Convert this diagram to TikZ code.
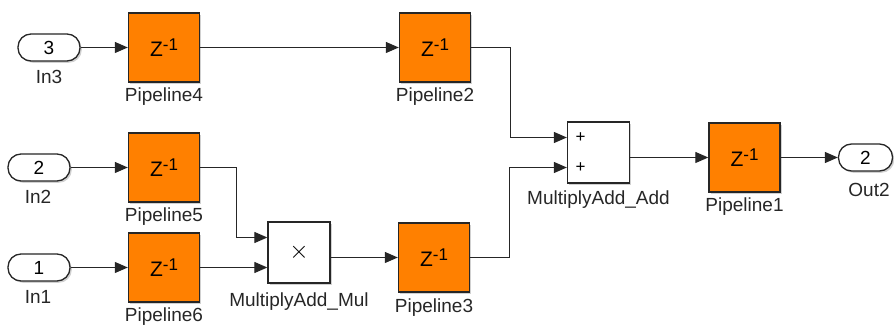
\documentclass[tikz,border=0pt]{standalone}
\usepackage{fontspec}
\setmainfont{Liberation Sans}
\usetikzlibrary{arrows.meta,shadows,calc}
\definecolor{pipeorange}{HTML}{FF8000}
\definecolor{edgegray}{HTML}{262626}
\begin{document}
\begin{tikzpicture}[x=1pt,y=-1pt,
  every node/.style={font=\fontsize{19}{19}\selectfont, inner sep=0pt},
  shad/.style={drop shadow={shadow xshift=1.8pt, shadow yshift=-1.8pt, opacity=0.3, fill=black!60}},
  pipe/.style={draw=edgegray, line width=1.4pt, fill=pipeorange, minimum width=71pt, minimum height=69pt, shad},
  opbox/.style={draw=edgegray, line width=1.3pt, fill=white, minimum width=62pt, minimum height=61pt, shad},
  port/.style={draw=edgegray, line width=1.3pt, fill=white, rounded corners=13pt, minimum height=27pt, shad},
  lbl/.style={text=black!85},
  wire/.style={draw=black!85, line width=1.2pt},
  arr/.style={wire, -{Triangle[length=13pt,width=11pt]}}
]
\useasboundingbox (0,0) rectangle (894,328);
\newcommand{\zinv}{\fontsize{21}{21}\selectfont Z\raisebox{6.5pt}{\fontsize{17}{17}\selectfont -1}}
% ports
\node[port, minimum width=62pt] (in3) at (49,47.5) {3};
\node[port, minimum width=62pt] (in2) at (39,167.5) {2};
\node[port, minimum width=62pt] (in1) at (39,267.5) {1};
\node[port, minimum width=54pt] (out2) at (865.5,157.5) {2};
\node[lbl] (in3l) at (49,77) {In3};
\node[lbl] (in2l) at (38,197) {In2};
\node[lbl] (in1l) at (38,297) {In1};
\node[lbl] (out2l) at (869,190) {Out2};
% pipelines
\node[pipe] (p4) at (164,47.5) {\zinv};
\node[pipe] (p2) at (435,47.5) {\zinv};
\node[pipe] (p5) at (164,167.5) {\zinv};
\node[pipe] (p6) at (164,267.5) {\zinv};
\node[pipe] (p3) at (434,257.5) {\zinv};
\node[pipe] (p1) at (744.5,157.5) {\zinv};
\node[lbl] (p4l) at (164,97) {Pipeline4};
\node[lbl] (p2l) at (435,97) {Pipeline2};
\node[lbl] (p5l) at (164,217) {Pipeline5};
\node[lbl] (p6l) at (164,317) {Pipeline6};
\node[lbl] (p3l) at (434,308) {Pipeline3};
\node[lbl] (p1l) at (744.5,207) {Pipeline1};
% operators
\node[opbox] (mul) at (299,252.5) {\fontsize{26}{26}\selectfont$\times$};
\node[opbox] (add) at (598.5,152.5) {};
\node (plus1) at ([xshift=-18pt,yshift=15pt]add.center) {\fontsize{17}{17}\selectfont +};
\node (plus2) at ([xshift=-18pt,yshift=-15pt]add.center) {\fontsize{17}{17}\selectfont +};
\node[lbl] (mull) at (299,302) {MultiplyAdd\_Mul};
\node[lbl] (addl) at (598.5,200) {MultiplyAdd\_Add};
% wires
\draw[arr] (in3.east) -- (p4.west);
\draw[arr] (in2.east) -- (p5.west);
\draw[arr] (in1.east) -- (p6.west);
\draw[arr] (p4.east) -- (p2.west);
\draw[arr] (p5.east) -- ++(36,0) |- ([yshift=15pt]mul.west);
\draw[arr] (p6.east) -- ([yshift=-15pt]mul.west);
\draw[arr] (p3.west -| mul.east) -- (p3.west);
\draw[arr] (p2.east) -- ++(39,0) |- ([yshift=15pt]add.west);
\draw[arr] (p3.east) -- ++(39,0) |- ([yshift=-15pt]add.west);
\draw[arr] (p1.west -| add.east) -- (p1.west);
\draw[arr] (p1.east) -- (out2.west);
\end{tikzpicture}
\end{document}
